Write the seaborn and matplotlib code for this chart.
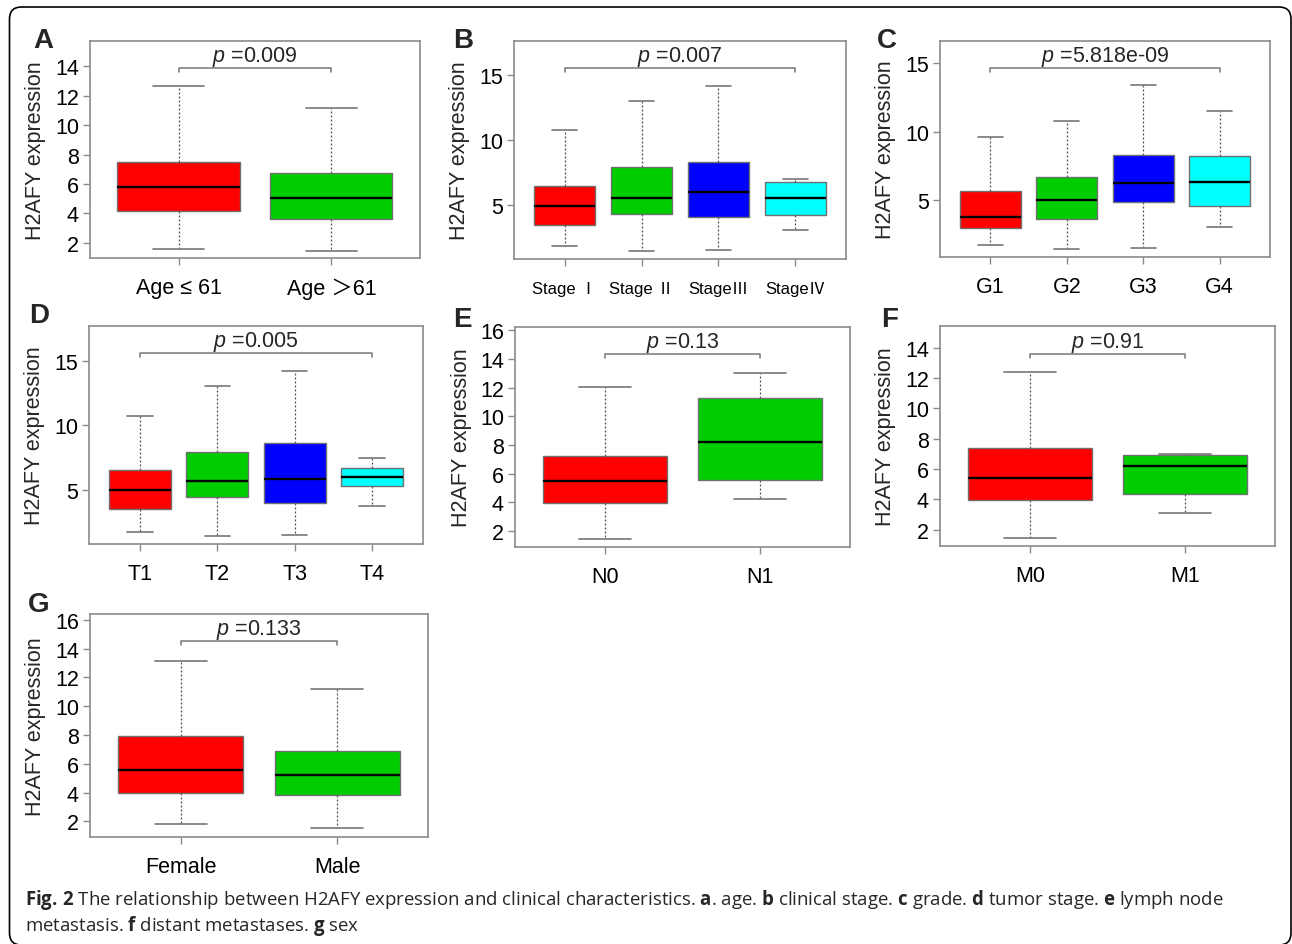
import numpy as np
import pandas as pd
import matplotlib
matplotlib.use("Agg")
import matplotlib.pyplot as plt
import seaborn as sns
from matplotlib.patches import FancyBboxPatch
from matplotlib.transforms import IdentityTransform

# Five-number summaries (min, Q1, median, Q3, max) of H2AFY expression per group
age_groups = ["Age ≤ 61", "Age ＞61"]
age_stats = [[1.60, 4.15, 5.82, 7.51, 12.62],
             [1.48, 3.60, 5.05, 6.77, 11.17]]
age_p = "0.009"

stage_groups = ["Stage Ⅰ", "Stage Ⅱ", "StageⅢ", "StageⅣ"]
stage_stats = [[1.88, 3.50, 4.95, 6.49, 10.76],
               [1.45, 4.35, 5.59, 7.93, 13.00],
               [1.55, 4.07, 6.05, 8.36, 14.21],
               [3.10, 4.25, 5.59, 6.80, 7.03]]
stage_p = "0.007"

grade_groups = ["G1", "G2", "G3", "G4"]
grade_stats = [[1.74, 2.96, 3.81, 5.65, 9.59],
               [1.43, 3.62, 5.02, 6.70, 10.75],
               [1.53, 4.88, 6.24, 8.30, 13.38],
               [3.03, 4.61, 6.36, 8.23, 11.48]]
grade_p = "5.818e-09"

t_groups = ["T1", "T2", "T3", "T4"]
t_stats = [[1.76, 3.53, 5.00, 6.52, 10.76],
           [1.45, 4.46, 5.72, 7.93, 13.04],
           [1.55, 3.97, 5.87, 8.60, 14.20],
           [3.74, 5.31, 6.05, 6.72, 7.49]]
t_p = "0.005"

n_groups = ["N0", "N1"]
n_stats = [[1.44, 3.97, 5.48, 7.24, 12.04],
           [4.23, 5.55, 8.23, 11.29, 13.03]]
n_p = "0.13"

m_groups = ["M0", "M1"]
m_stats = [[1.45, 3.96, 5.41, 7.36, 12.37],
           [3.10, 4.36, 6.22, 6.93, 7.01]]
m_p = "0.91"

sex_groups = ["Female", "Male"]
sex_stats = [[1.79, 3.97, 5.55, 7.91, 13.17],
             [1.51, 3.83, 5.25, 6.85, 11.16]]
sex_p = "0.133"

box_colors = ["#FF0000", "#00CD00", "#0000FF", "#00FFFF"]

sns.set_style("ticks")
plt.rcParams["font.family"] = ["Liberation Sans", "Noto Sans CJK SC", "DejaVu Sans"]
plt.rcParams["mathtext.fontset"] = "custom"
plt.rcParams["mathtext.it"] = "Liberation Sans:italic"
plt.rcParams["mathtext.rm"] = "Liberation Sans"
plt.rcParams["mathtext.bf"] = "Liberation Sans:bold"

W, H = 1292, 945
fig = plt.figure(figsize=(W / 100, H / 100), dpi=100, facecolor="white")


def px_rect(x0, y0, x1, y1):
    return [x0 / W, 1 - y1 / H, (x1 - x0) / W, (y1 - y0) / H]


# letter, groups, stats, p-value, axes box (px), y-limits, y-ticks, bracket height, letter anchor (px), x tick size
panels = [
    ("A", age_groups, age_stats, age_p, (90, 42, 420, 259), (0.98, 15.7), range(2, 15, 2), 13.87, (33, 48), 15.5),
    ("B", stage_groups, stage_stats, stage_p, (514, 42, 846, 260), (0.86, 17.65), [5, 10, 15], 15.57, (453, 48), 12),
    ("C", grade_groups, grade_stats, grade_p, (940, 42, 1270, 258), (0.87, 16.6), [5, 10, 15], 14.64, (877, 48), 15.5),
    ("D", t_groups, t_stats, t_p, (89, 327, 423, 545), (0.84, 17.67), [5, 10, 15], 15.59, (29, 323), 15.5),
    ("E", n_groups, n_stats, n_p, (515, 328, 850, 548), (0.89, 16.23), range(2, 17, 2), 14.33, (453, 327), 15.5),
    ("F", m_groups, m_stats, m_p, (940, 327, 1275, 547), (0.92, 15.43), range(2, 15, 2), 13.6, (881, 327), 15.5),
    ("G", sex_groups, sex_stats, sex_p, (90, 615, 428, 838), (0.91, 16.4), range(2, 17, 2), 14.5, (28, 612), 15.5),
]

frame_col = "#8a8a8a"
for letter, groups, stats, p, rect, ylim, yticks, br_y, lab, xfs in panels:
    ax = fig.add_axes(px_rect(*rect))
    df = pd.DataFrame({"group": np.repeat(groups, 5), "value": np.concatenate(stats)})
    n = len(groups)
    sns.boxplot(
        data=df, x="group", y="value", hue="group", order=groups, hue_order=groups,
        palette=box_colors[:n], saturation=1, width=0.8, whis=(0, 100),
        linecolor="#707070", linewidth=1.0, legend=False, ax=ax,
        capwidths=0.33,
        whiskerprops=dict(linestyle=(0, (1.6, 1.6)), color="#555555", linewidth=0.9),
        capprops=dict(color="#777777", linewidth=1.2),
        medianprops=dict(color="black", linewidth=1.7),
    )
    ax.set_xlim(-0.5 - 0.04 * n, n - 0.5 + 0.04 * n)
    ax.set_ylim(*ylim)
    ax.set_yticks(list(yticks))
    ax.set_xlabel("")
    ax.set_ylabel("H2AFY expression", fontsize=15.5, va="center")
    ax.yaxis.set_label_coords(-54 / (rect[2] - rect[0]), 0.5)
    for s in ax.spines.values():
        s.set_visible(True)
        s.set_color(frame_col)
        s.set_linewidth(1.2)
    ax.tick_params(axis="both", length=5, width=1, color=frame_col, labelcolor="black")
    ax.tick_params(axis="y", labelsize=15.5, pad=3)
    ax.tick_params(axis="x", labelsize=xfs, pad=9 if xfs > 13 else 11)

    # significance bracket across all groups
    d = (ylim[1] - ylim[0]) * 4 / (rect[3] - rect[1])
    ax.plot([0, 0, n - 1, n - 1], [br_y - d, br_y, br_y, br_y - d], color="#777777", lw=1.1)
    ax.annotate("$p$ =" + p, xy=((n - 1) / 2, br_y), xytext=(0, 5), textcoords="offset points",
                ha="center", va="baseline", fontsize=15.5)

    fig.text(lab[0] / W, 1 - lab[1] / H, letter, fontsize=20, fontweight="bold",
             ha="left", va="baseline")

# caption
cap_kw = dict(fontsize=13.4, family="Open Sans", ha="left", va="baseline")
plt.rcParams["mathtext.bf"] = "Open Sans:bold"
line1 = (r"$\mathbf{Fig.\,2}$ The relationship between H2AFY expression and clinical characteristics. "
         r"$\mathbf{a}$. age. $\mathbf{b}$ clinical stage. $\mathbf{c}$ grade. $\mathbf{d}$ tumor stage. "
         r"$\mathbf{e}$ lymph node")
line2 = r"metastasis. $\mathbf{f}$ distant metastases. $\mathbf{g}$ sex"
fig.text(25 / W, 1 - 905 / H, line1, **cap_kw)
fig.text(25 / W, 1 - 931 / H, line2, **cap_kw)

# rounded outer frame
frame = FancyBboxPatch((9.5, -1), 1281.5, 938, boxstyle="round,pad=0,rounding_size=12",
                       transform=IdentityTransform(), fill=False, edgecolor="black", linewidth=1.2)
fig.patches.append(frame)

fig.savefig("out.png", dpi=100, facecolor="white")
